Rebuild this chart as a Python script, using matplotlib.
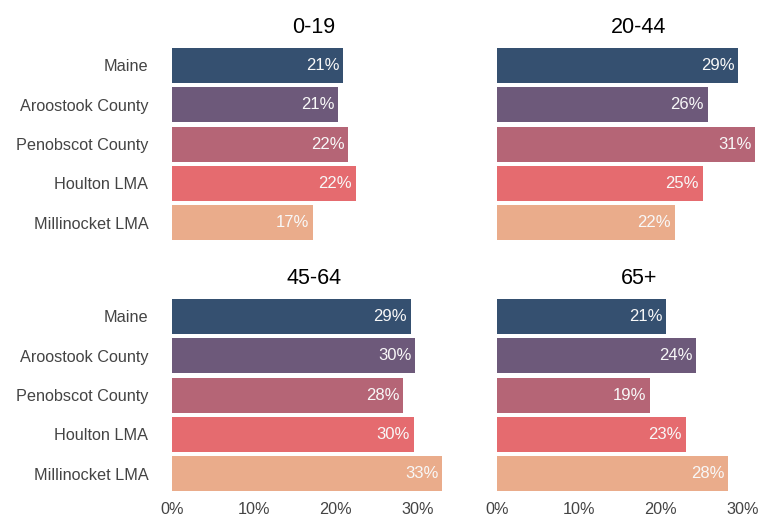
import matplotlib
matplotlib.use("Agg")
import matplotlib.pyplot as plt

plt.rcParams['font.family'] = ['Liberation Sans', 'DejaVu Sans']

regions = ["Maine", "Aroostook County", "Penobscot County", "Houlton LMA", "Millinocket LMA"]
colors = ["#355070", "#6d597a", "#b56576", "#e56b6f", "#eaac8b"]
panels = ["0-19", "20-44", "45-64", "65+"]
vals_0_19 = [20.9, 20.3, 21.5, 22.4, 17.2]
vals_20_44 = [29.4, 25.7, 31.5, 25.1, 21.7]
vals_45_64 = [29.1, 29.7, 28.2, 29.5, 33.0]
vals_65_plus = [20.6, 24.3, 18.7, 23.0, 28.2]
labels_0_19 = ["21%", "21%", "22%", "22%", "17%"]
labels_20_44 = ["29%", "26%", "31%", "25%", "22%"]
labels_45_64 = ["29%", "30%", "28%", "30%", "33%"]
labels_65_plus = ["21%", "24%", "19%", "23%", "28%"]
xticks = [0, 10, 20, 30]
xticklabels = ["0%", "10%", "20%", "30%"]

W, H = 758, 521
fig = plt.figure(figsize=(W / 100, H / 100), dpi=100)

def px_axes(left, top, width, height):
    return fig.add_axes([left / W, 1 - (top + height) / H, width / W, height / H])

ax_w = 284
ax_h = 196.5
positions = [(172, 45.8), (497, 45.8), (172, 296.8), (497, 296.8)]
data = [(vals_0_19, labels_0_19), (vals_20_44, labels_20_44),
        (vals_45_64, labels_45_64), (vals_65_plus, labels_65_plus)]

for i, (title, (vals, labs), (lx, ty)) in enumerate(zip(panels, data, positions)):
    ax = px_axes(lx, ty, ax_w, ax_h)
    y = list(range(len(regions)))
    ax.barh(y, vals, height=0.89, color=colors, edgecolor='none')
    for yi, v, lab in zip(y, vals, labs):
        ax.text(v - 0.45, yi, lab, ha='right', va='center', color='#f8f8f8',
                fontsize=12)
    ax.set_xlim(0, 34.65)
    ax.set_ylim(4.5, -0.5)
    ax.set_title(title, fontsize=15.5, pad=9, color='black')
    for s in ax.spines.values():
        s.set_visible(False)
    ax.tick_params(axis='both', length=0, colors='#444444', labelsize=11.7)
    if i % 2 == 0:
        ax.set_yticks(y)
        ax.set_yticklabels(regions)
        ax.tick_params(axis='y', pad=17)
    else:
        ax.set_yticks([])
    ax.set_xticks(xticks)
    if i >= 2:
        ax.set_xticklabels(xticklabels)
        ax.tick_params(axis='x', pad=6)
    else:
        ax.set_xticklabels([])
    ax.set_facecolor('white')

fig.savefig("out.png", dpi=100, facecolor='white')
